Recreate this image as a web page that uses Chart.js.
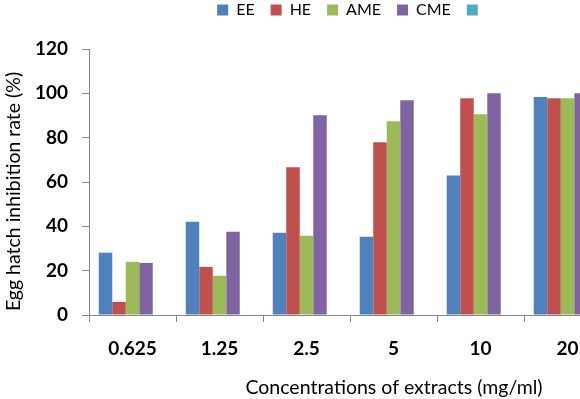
<!DOCTYPE html>
<html><head><meta charset="utf-8">
<script src="https://cdn.jsdelivr.net/npm/chart.js@4.4.1/dist/chart.umd.min.js"></script>
<style>
html,body{margin:0;padding:0;background:#fff;overflow:hidden;width:580px;height:399px;}
#wrap{position:absolute;left:0;top:-14px;width:703px;height:413px;}
</style></head><body>
<div id="wrap"><canvas id="c"></canvas></div>
<script>
const categories = ['0.625', '1.25', '2.5', '5', '10', '20'];
const seriesNames = ['EE', 'HE', 'AME', 'CME', ''];
const eeValues = [28.1, 42.1, 37.1, 35.3, 62.9, 98.3];
const heValues = [5.9, 21.7, 66.6, 77.9, 97.8, 97.8];
const ameValues = [24.0, 17.7, 35.8, 87.4, 90.6, 97.8];
const cmeValues = [23.5, 37.6, 90.1, 96.9, 100, 100];
const fifthValues = [null, null, null, null, null, null];
const yTickValues = [0, 20, 40, 60, 80, 100, 120];
const xTitle = 'Concentrations of extracts (mg/ml)';
const yTitle = 'Egg hatch inhibition rate (%)';

const seriesColors = ['#4F81BD', '#C0504D', '#9BBB59', '#8064A2', '#4BACC6'];
const seriesValues = [eeValues, heValues, ameValues, cmeValues, fifthValues];
const axisColor = '#868686';

const legendMargin = {
  id: 'legendMargin',
  beforeInit(chart) {
    const origFit = chart.legend.fit;
    chart.legend.fit = function () { origFit.bind(chart.legend)(); this.height += 21; };
  }
};
const axisTitles = {
  id: 'axisTitles',
  afterDraw(chart) {
    const ctx = chart.ctx;
    ctx.save();
    ctx.fillStyle = '#000';
    ctx.font = '19.5px Lato';
    ctx.textAlign = 'center';
    ctx.textBaseline = 'middle';
    ctx.fillText(xTitle, 394, 402);
    ctx.translate(14, 205.5);
    ctx.rotate(-Math.PI / 2);
    ctx.fillText(yTitle, 0, 0);
    ctx.restore();
  }
};

new Chart(document.getElementById('c'), {
  type: 'bar',
  data: {
    labels: categories,
    datasets: seriesNames.map((n, i) => ({
      label: n,
      data: seriesValues[i],
      backgroundColor: seriesColors[i],
      borderWidth: 0,
      categoryPercentage: 0.776,
      barPercentage: 1.0
    }))
  },
  options: {
    responsive: true,
    maintainAspectRatio: false,
    animation: false,
    devicePixelRatio: 1,
    layout: { padding: 0 },
    plugins: {
      legend: {
        position: 'top',
        labels: { boxWidth: 11, boxHeight: 11, padding: 16, color: '#000', font: { family: 'Lato', size: 16 } }
      },
      tooltip: { enabled: false },
      title: { display: false }
    },
    scales: {
      x: {
        offset: true,
        grid: { display: true, drawOnChartArea: false, drawTicks: true, tickLength: 7, color: axisColor, offset: true },
        border: { display: true, color: axisColor, width: 1 },
        ticks: { color: '#000', font: { family: 'Lato', size: 19, weight: 'bold' }, padding: 15, maxRotation: 0, autoSkip: false },
        afterFit(s) { s.height = 84; }
      },
      y: {
        min: 0, max: 120,
        afterBuildTicks(s) { s.ticks = yTickValues.map(v => ({ value: v })); },
        grid: { display: true, drawOnChartArea: false, drawTicks: true, tickLength: 7, color: axisColor },
        border: { display: true, color: axisColor, width: 1 },
        ticks: { color: '#000', font: { family: 'Lato', size: 19, weight: 'bold' }, padding: 14 },
        afterFit(s) { s.width = 89; }
      },
      y2: {
        position: 'right',
        grid: { display: false },
        border: { display: false },
        ticks: { display: false },
        afterFit(s) { s.width = 92; }
      }
    }
  },
  plugins: [legendMargin, axisTitles]
});
</script>
</body></html>
